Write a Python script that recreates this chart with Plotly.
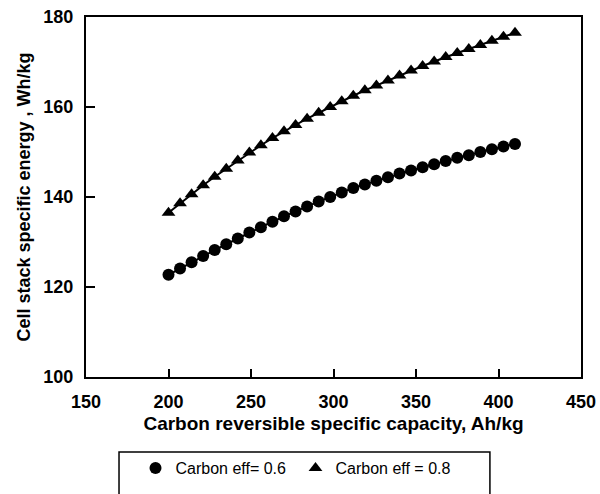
import plotly.graph_objects as go

capacity = [200, 207, 214, 221, 228, 235, 242, 249, 256, 263, 270, 277, 284, 291, 298,
            305, 312, 319, 326, 333, 340, 347, 354, 361, 368, 375, 382, 389, 396, 403, 410]

energy_eff06 = [122.7, 124.1, 125.5, 126.9, 128.2, 129.5, 130.8, 132.1, 133.3, 134.5, 135.7,
                136.8, 137.9, 139.0, 140.0, 141.0, 142.0, 142.8, 143.6, 144.4, 145.2, 145.9,
                146.6, 147.3, 148.0, 148.7, 149.3, 150.0, 150.6, 151.2, 151.8]

energy_eff08 = [136.5, 138.6, 140.6, 142.6, 144.5, 146.3, 148.1, 149.9, 151.5, 153.1, 154.6,
                156.0, 157.4, 158.7, 160.0, 161.3, 162.5, 163.7, 164.8, 165.9, 167.0, 168.1,
                169.1, 170.1, 171.1, 172.0, 172.9, 173.8, 174.7, 175.6, 176.5]

series_names = ["Carbon eff= 0.6", "Carbon eff = 0.8"]
x_ticks = [150, 200, 250, 300, 350, 400, 450]
y_ticks = [100, 120, 140, 160, 180]

FONT = "Liberation Sans, Arial, sans-serif"

fig = go.Figure()

for vals, name, sym, msize in [(energy_eff06, series_names[0], "circle", 12),
                                (energy_eff08, series_names[1], "triangle-up", 12)]:
    fig.add_trace(go.Scatter(x=capacity, y=vals, mode="lines", showlegend=False,
                             line=dict(color="black", width=2), hoverinfo="skip"))
    fig.add_trace(go.Scatter(x=capacity, y=vals, mode="markers", name=name,
                             marker=dict(symbol=sym, size=msize, color="black",
                                         line=dict(width=0))))

fig.update_layout(
    width=600, height=494,
    margin=dict(l=86, r=19, t=17, b=117, autoexpand=False),
    paper_bgcolor="white", plot_bgcolor="white",
    font=dict(family=FONT, color="black"),
    showlegend=True,
    legend=dict(orientation="h", x=0.10, xanchor="left", y=-0.253, yanchor="middle",
                font=dict(family=FONT, size=16, color="black"),
                bgcolor="rgba(0,0,0,0)", borderwidth=0, itemsizing="trace",
                traceorder="normal", tracegroupgap=0, entrywidth=115,
                entrywidthmode="pixels", itemwidth=30),
    shapes=[dict(type="rect", xref="paper", yref="paper",
                 x0=0.0667, x1=0.816, y0=-0.2083, y1=-0.40,
                 line=dict(color="black", width=1.5))],
)

fig.update_xaxes(
    range=[150, 450], tickvals=x_ticks, ticktext=[str(v) for v in x_ticks],
    ticks="inside", ticklen=8, tickwidth=1.5, tickcolor="black",
    showline=True, linecolor="black", linewidth=2, mirror=True,
    showgrid=False, zeroline=False,
    tickfont=dict(family=FONT, size=18, color="black", weight=700),
    ticklabelstandoff=7,
    title=dict(text="<b>Carbon reversible specific capacity, Ah/kg</b>",
               font=dict(family=FONT, size=19, color="black"), standoff=6),
)
fig.update_yaxes(
    range=[100, 180], tickvals=y_ticks, ticktext=[str(v) for v in y_ticks],
    ticks="inside", ticklen=9, tickwidth=1.5, tickcolor="black",
    showline=True, linecolor="black", linewidth=2, mirror=True,
    showgrid=False, zeroline=False,
    tickfont=dict(family=FONT, size=18, color="black", weight=700),
    ticklabelstandoff=7,
    title=dict(text="<b>Cell stack specific energy , Wh/kg</b>",
               font=dict(family=FONT, size=18, color="black"), standoff=8),
)

fig.write_html("out.html")
